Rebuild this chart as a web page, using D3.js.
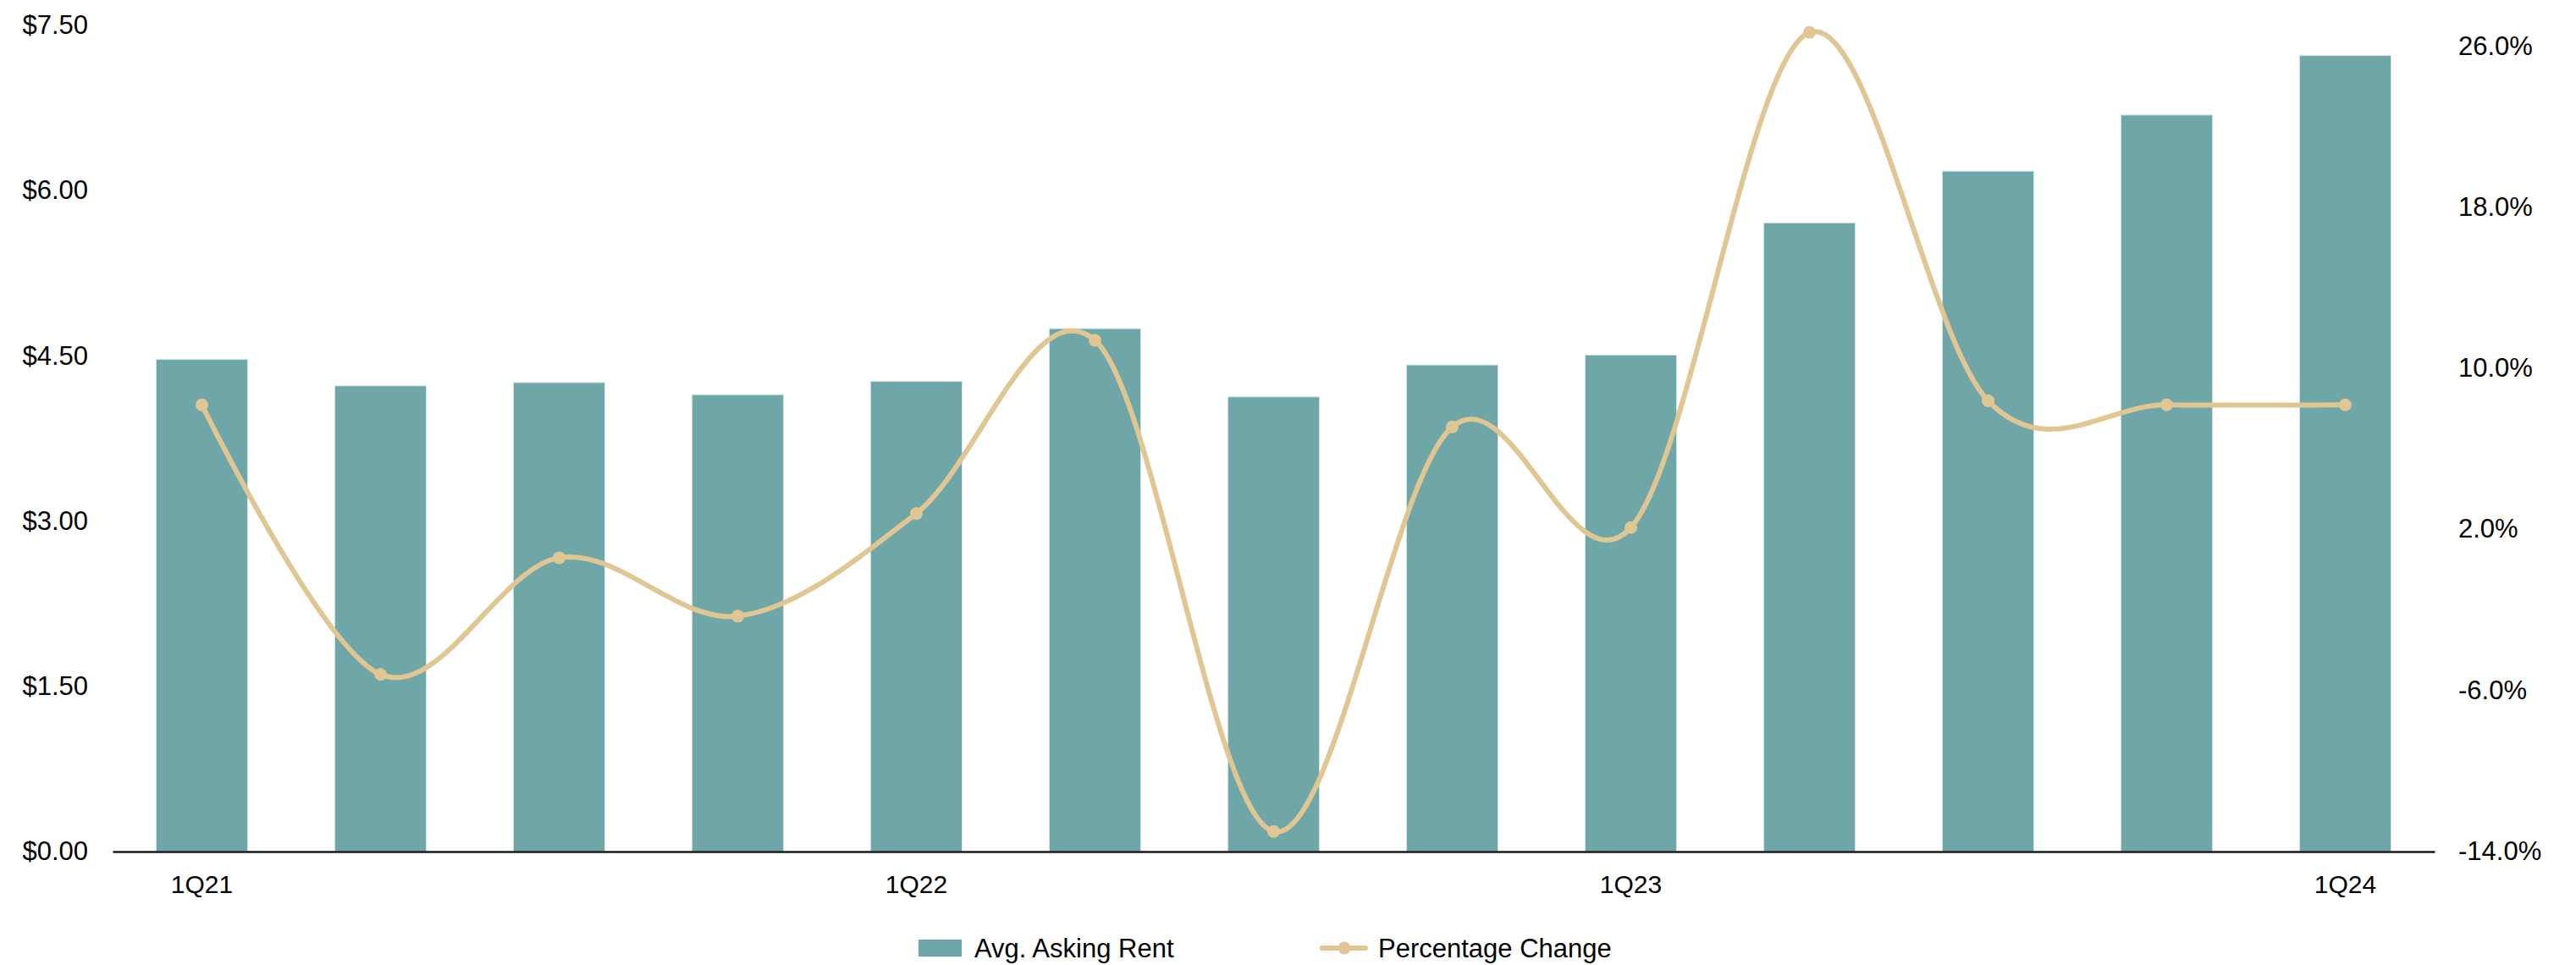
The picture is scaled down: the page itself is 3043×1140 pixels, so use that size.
<!DOCTYPE html>
<html>
<head>
<meta charset="utf-8">
<script src="https://cdn.jsdelivr.net/npm/d3@7"></script>
<style>
  html, body { margin: 0; padding: 0; background: #ffffff; }
  svg { display: block; }
  text { font-family: "Liberation Sans", Arial, Helvetica, sans-serif; fill: #000; }
</style>
</head>
<body>
<svg id="chart" width="3043" height="1140"></svg>
<script>
// Quarterly average asking rent ($/SF) and quarter-over-quarter change (%)
const quarters = ["1Q21", "2Q21", "3Q21", "4Q21", "1Q22", "2Q22", "3Q22", "4Q22",
                  "1Q23", "2Q23", "3Q23", "4Q23", "1Q24"];
const askingRent = [4.47, 4.23, 4.26, 4.15, 4.27, 4.75, 4.13, 4.42, 4.51, 5.71, 6.18, 6.69, 7.23];
const pctChange = [8.2, -5.2, 0.6, -2.3, 2.8, 11.4, -13.0, 7.1, 2.1, 26.7, 8.4, 8.2, 8.2];

const rentTicks = [0, 1.5, 3, 4.5, 6, 7.5];
const pctTicks = [-14, -6, 2, 10, 18, 26];
const quarterTicks = ["1Q21", "1Q22", "1Q23", "1Q24"];

const seriesNames = ["Avg. Asking Rent", "Percentage Change"];

const barColor = "#6fa6a7";
const lineColor = "#dfc692";

const svg = d3.select("#chart");

const plotLeft = 133, plotRight = 2876, plotTop = 30.5, baseY = 1006;

const x = d3.scaleBand()
  .domain(quarters)
  .range([plotLeft, plotRight])
  .paddingInner(0.488)
  .paddingOuter(0.244);

const yRent = d3.scaleLinear().domain([0, 7.5]).range([baseY, plotTop]);
const yPct = d3.scaleLinear().domain([-14, 26]).range([baseY, 55]);

// Bars
svg.append("g")
  .selectAll("rect")
  .data(quarters)
  .join("rect")
  .attr("x", d => x(d))
  .attr("y", (d, i) => yRent(askingRent[i]))
  .attr("width", x.bandwidth())
  .attr("height", (d, i) => yRent(0) - yRent(askingRent[i]))
  .attr("fill", barColor)
  .attr("stroke", "#d3e5e5")
  .attr("stroke-width", 1);

// Left axis ($)
const axL = svg.append("g")
  .attr("transform", `translate(${plotLeft},0)`)
  .call(d3.axisLeft(yRent).tickValues(rentTicks).tickSize(0).tickPadding(29)
    .tickFormat(d3.format("$.2f")));
axL.select(".domain").remove();
axL.selectAll("text").style("font-size", "31px").attr("dy", "0.30em")
  .style("font-family", "'Liberation Sans', Arial, sans-serif").attr("fill", "#000");

// Right axis (%)
const axR = svg.append("g")
  .attr("transform", `translate(${plotRight},0)`)
  .call(d3.axisRight(yPct).tickValues(pctTicks).tickSize(0).tickPadding(28)
    .tickFormat(d => d.toFixed(1) + "%"));
axR.select(".domain").remove();
axR.selectAll("text").style("font-size", "31px").attr("dy", "0.30em")
  .style("font-family", "'Liberation Sans', Arial, sans-serif").attr("fill", "#000");

// Category axis with baseline
const axB = svg.append("g")
  .attr("transform", `translate(0,${baseY})`)
  .call(d3.axisBottom(x).tickValues(quarterTicks).tickSize(0).tickSizeOuter(0).tickPadding(28));
axB.select(".domain").attr("stroke", "#1a1a1a").attr("stroke-width", 2.5);
axB.selectAll("text").style("font-size", "30px")
  .style("font-family", "'Liberation Sans', Arial, sans-serif").attr("fill", "#000");

// Smoothed percentage-change line
const cx = d => x(d) + x.bandwidth() / 2;
const line = d3.line()
  .x(d => cx(d))
  .y((d, i) => yPct(pctChange[i]))
  .curve(d3.curveCardinal.tension(0));

svg.append("path")
  .datum(quarters)
  .attr("d", line)
  .attr("fill", "none")
  .attr("stroke", lineColor)
  .attr("stroke-width", 6)
  .attr("stroke-linejoin", "round");

svg.append("g")
  .selectAll("circle")
  .data(quarters)
  .join("circle")
  .attr("cx", d => cx(d))
  .attr("cy", (d, i) => yPct(pctChange[i]))
  .attr("r", 7.5)
  .attr("fill", lineColor);

// Legend
const legend = svg.append("g").attr("transform", "translate(0,1120)");
legend.append("rect")
  .attr("x", 1085).attr("y", -10).attr("width", 51).attr("height", 20)
  .attr("fill", barColor);
legend.append("text")
  .attr("x", 1151).attr("y", 0).attr("dy", "0.35em")
  .style("font-size", "31px").text(seriesNames[0]);

legend.append("line")
  .attr("x1", 1562).attr("x2", 1613).attr("y1", 0).attr("y2", 0)
  .attr("stroke", lineColor).attr("stroke-width", 6).attr("stroke-linecap", "round");
legend.append("circle")
  .attr("cx", 1588).attr("cy", 0).attr("r", 7.5).attr("fill", lineColor);
legend.append("text")
  .attr("x", 1628).attr("y", 0).attr("dy", "0.35em")
  .style("font-size", "31px").text(seriesNames[1]);
</script>
</body>
</html>
